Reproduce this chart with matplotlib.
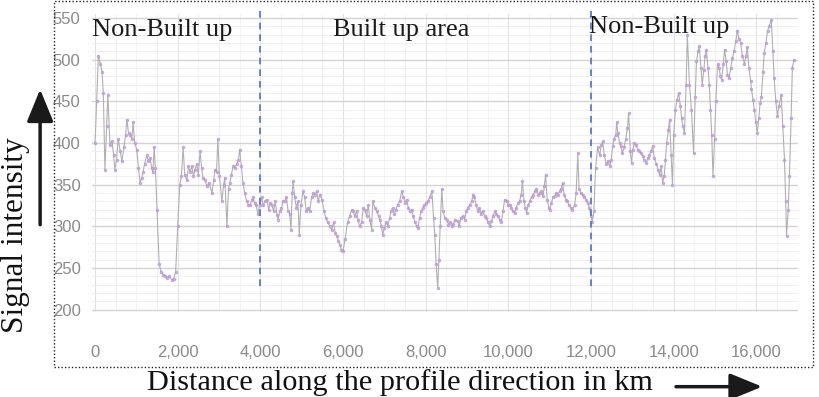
import matplotlib
matplotlib.use("Agg")
import matplotlib.pyplot as plt
from matplotlib.patches import Rectangle
from matplotlib.ticker import MultipleLocator, FuncFormatter

# ---- data ----
distance = [0, 40, 80, 130, 170, 200, 240, 280, 310, 360, 410, 450, 480, 520, 560, 610, 650, 700, 740, 770,
            810, 850, 890, 920, 960, 1010, 1050, 1090, 1130, 1160, 1200, 1250, 1290, 1330, 1370, 1400, 1430, 1460, 1500, 1550,
            1600, 1650, 1700, 1750, 1800, 1850, 1900, 1950, 2000, 2050, 2090, 2130, 2170, 2220, 2260, 2300, 2340, 2380, 2420, 2460,
            2500, 2540, 2580, 2610, 2660, 2710, 2760, 2830, 2870, 2900, 2940, 2970, 3010, 3070, 3110, 3140, 3190, 3230, 3260, 3300,
            3340, 3380, 3430, 3470, 3500, 3540, 3580, 3620, 3670, 3710, 3750, 3790, 3820, 3860, 3900, 3940, 3980, 4030, 4070, 4110,
            4160, 4200, 4240, 4280, 4320, 4360, 4400, 4430, 4470, 4510, 4550, 4590, 4630, 4670, 4710, 4740, 4770, 4790, 4830, 4870,
            4910, 4940, 4980, 5030, 5070, 5110, 5150, 5190, 5240, 5280, 5320, 5360, 5400, 5440, 5490, 5540, 5580, 5630, 5680, 5730,
            5770, 5810, 5850, 5890, 5920, 5960, 6000, 6050, 6110, 6160, 6210, 6250, 6280, 6330, 6360, 6400, 6450, 6490, 6530, 6570,
            6610, 6650, 6690, 6720, 6770, 6820, 6860, 6890, 6930, 6960, 7000, 7040, 7080, 7130, 7160, 7200, 7240, 7280, 7320, 7370,
            7420, 7460, 7500, 7540, 7580, 7620, 7660, 7700, 7740, 7780, 7810, 7850, 7890, 7930, 7970, 8010, 8050, 8100, 8150, 8190,
            8220, 8250, 8290, 8320, 8350, 8390, 8420, 8460, 8510, 8550, 8590, 8630, 8670, 8710, 8770, 8810, 8850, 8900, 8940, 8980,
            9020, 9070, 9110, 9150, 9180, 9220, 9260, 9300, 9340, 9380, 9430, 9470, 9510, 9550, 9590, 9630, 9670, 9710, 9750, 9790,
            9830, 9870, 9910, 9960, 10000, 10030, 10070, 10110, 10150, 10190, 10230, 10270, 10310, 10340, 10380, 10410, 10440, 10480, 10520, 10560,
            10600, 10640, 10680, 10720, 10760, 10800, 10840, 10870, 10900, 10940, 10980, 11000, 11040, 11080, 11120, 11160, 11200, 11240, 11280, 11310,
            11350, 11390, 11430, 11470, 11510, 11550, 11600, 11640, 11680, 11710, 11750, 11800, 11840, 11880, 11920, 11960, 12000, 12030, 12070, 12110,
            12160, 12210, 12250, 12280, 12320, 12370, 12410, 12450, 12490, 12520, 12560, 12600, 12620, 12650, 12690, 12720, 12760, 12800, 12840, 12880,
            12910, 12950, 12980, 13010, 13050, 13090, 13130, 13170, 13210, 13250, 13290, 13340, 13380, 13410, 13450, 13490, 13530, 13580, 13620, 13660,
            13700, 13730, 13770, 13800, 13830, 13870, 13900, 13940, 13970, 14000, 14040, 14080, 14120, 14160, 14190, 14220, 14260, 14300, 14330, 14380,
            14430, 14480, 14520, 14550, 14590, 14620, 14660, 14690, 14730, 14760, 14790, 14830, 14860, 14890, 14920, 14950, 14990, 15020, 15060, 15100,
            15130, 15160, 15200, 15230, 15270, 15300, 15340, 15380, 15420, 15460, 15500, 15540, 15580, 15620, 15660, 15710, 15750, 15780, 15820, 15860,
            15880, 15920, 15950, 15990, 16020, 16060, 16090, 16120, 16160, 16190, 16230, 16270, 16310, 16360, 16400, 16430, 16470, 16510, 16550, 16600,
            16640, 16680, 16710, 16730, 16770, 16800, 16840, 16870, 16910]
signal = [400, 450, 505, 495, 485, 460, 368, 420, 458, 398, 402, 385, 368, 380, 405, 390, 378, 395, 410, 428,
          412, 410, 405, 425, 400, 392, 370, 352, 358, 365, 375, 385, 378, 382, 370, 365, 395, 370, 320, 255,
          245, 242, 240, 238, 240, 236, 237, 245, 300, 350, 360, 395, 362, 355, 372, 365, 372, 360, 368, 375,
          362, 390, 370, 358, 355, 348, 352, 340, 355, 368, 365, 405, 360, 330, 350, 358, 300, 345, 352, 362,
          372, 370, 375, 380, 392, 372, 352, 340, 330, 326, 325, 332, 335, 328, 325, 315, 325, 335, 325, 330,
          332, 320, 328, 325, 318, 330, 314, 308, 318, 322, 330, 330, 335, 318, 315, 296, 340, 354, 335, 322,
          330, 290, 325, 342, 335, 318, 322, 318, 335, 340, 338, 342, 330, 338, 332, 318, 310, 305, 300, 296,
          305, 292, 288, 282, 278, 272, 270, 285, 305, 312, 320, 318, 312, 318, 308, 300, 305, 322, 320, 312,
          325, 308, 296, 330, 322, 318, 312, 308, 300, 290, 298, 305, 300, 310, 318, 322, 315, 320, 326, 330,
          342, 335, 328, 332, 322, 318, 320, 312, 305, 300, 298, 310, 318, 322, 325, 328, 330, 335, 342, 310,
          290, 255, 226, 260, 300, 345, 318, 310, 308, 302, 305, 300, 303, 308, 306, 300, 310, 312, 308, 318,
          322, 326, 330, 338, 335, 325, 318, 322, 315, 318, 312, 310, 305, 300, 306, 312, 318, 315, 312, 308,
          305, 318, 332, 330, 325, 326, 322, 318, 316, 322, 328, 330, 338, 354, 330, 322, 316, 326, 330, 335,
          338, 342, 345, 338, 340, 342, 336, 348, 362, 332, 322, 320, 328, 335, 336, 340, 338, 342, 345, 352,
          338, 332, 330, 325, 322, 320, 325, 340, 388, 345, 340, 338, 335, 332, 328, 322, 312, 305, 318, 370,
          395, 385, 398, 402, 385, 375, 378, 372, 380, 396, 405, 410, 425, 412, 400, 396, 388, 395, 405, 418,
          436, 390, 376, 392, 400, 398, 392, 390, 388, 384, 380, 376, 382, 386, 390, 396, 382, 375, 368, 362,
          372, 352, 360, 380, 400, 415, 428, 385, 350, 410, 440, 452, 460, 445, 430, 420, 412, 470, 530, 470,
          440, 388, 455, 498, 510, 516, 490, 470, 488, 505, 512, 490, 470, 440, 410, 360, 405, 450, 495, 490,
          480, 476, 495, 512, 498, 482, 478, 490, 502, 510, 522, 535, 525, 520, 505, 495, 505, 515, 490, 475,
          465, 452, 440, 425, 412, 430, 448, 455, 485, 508, 520, 535, 540, 548, 510, 478, 450, 432, 445, 458,
          420, 380, 330, 288, 320, 360, 430, 490, 500]
x_ticks = [0, 2000, 4000, 6000, 8000, 10000, 12000, 14000, 16000]
y_ticks = [200, 250, 300, 350, 400, 450, 500, 550]
region_bounds = [4000, 12000]
region_labels = ["Non-Built up", "Built up area", "Non-Built up"]

serif = ["Liberation Serif", "DejaVu Serif"]
narrow = ["Liberation Sans Narrow", "Liberation Sans", "DejaVu Sans"]

fig = plt.figure(figsize=(8.19, 3.97), dpi=100)
ax = fig.add_axes([0.112, 0.214, 0.862, 0.751])

ax.plot(distance, signal, color="#b0b0b0", lw=0.8, zorder=3)
ax.plot(distance, signal, ls="none", marker="o", ms=2.2, mfc="#c4a0dc", mec="#b793d2",
        mew=0.3, alpha=0.85, zorder=4)

ax.set_xlim(-80, 17000)
ax.set_ylim(197, 555)
ax.set_xticks(x_ticks)
ax.set_yticks(y_ticks)
ax.xaxis.set_minor_locator(MultipleLocator(500))
ax.yaxis.set_minor_locator(MultipleLocator(10))
ax.xaxis.set_major_formatter(FuncFormatter(lambda v, p: f"{int(v):,}"))
ax.grid(True, which="major", axis="y", color="#d4d4d4", lw=1.0, zorder=0)
ax.grid(True, which="minor", axis="y", color="#ececec", lw=0.6, zorder=0)
ax.grid(True, which="major", axis="x", color="#e2e2e2", lw=0.8, zorder=0)
ax.grid(True, which="minor", axis="x", color="#f0f0f0", lw=0.6, zorder=0)
ax.set_axisbelow(True)
for s in ax.spines.values():
    s.set_visible(False)
ax.tick_params(which="both", length=0)
ax.tick_params(axis="x", pad=24, labelsize=12, labelcolor="#8a8a8a")
ax.tick_params(axis="y", pad=8, labelsize=12, labelcolor="#8a8a8a")
for lab in ax.get_xticklabels() + ax.get_yticklabels():
    lab.set_family(narrow)

# region boundaries
for b in region_bounds:
    ax.plot([b, b], [228, 560], color="#4a72c8", lw=1.2, ls=(0, (4, 3)), clip_on=False, zorder=5)

ax.text(0.0, 0.925, region_labels[0], transform=ax.transAxes, family=serif, fontsize=19,
        color="#1a1a1a", va="baseline", ha="left")
ax.text(0.439, 0.925, region_labels[1], transform=ax.transAxes, family=serif, fontsize=19,
        color="#1a1a1a", va="baseline", ha="center")
ax.text(0.704, 0.935, region_labels[2], transform=ax.transAxes, family=serif, fontsize=19,
        color="#1a1a1a", va="baseline", ha="left")

# axis titles (in figure coordinates)
fig.text(0.019, 0.408, "Signal intensity", rotation=90, family=serif, fontsize=22.5,
         color="#111111", ha="center", va="center")
fig.text(0.488, 0.036, "Distance along the profile direction in km", family=serif, fontsize=21.8,
         color="#111111", ha="center", va="center")

fig.add_artist(plt.Annotation("", xy=(0.049, 0.782), xytext=(0.049, 0.427),
                              xycoords="figure fraction", textcoords="figure fraction",
                              arrowprops=dict(arrowstyle="-|>,head_width=0.45,head_length=1.1",
                                              color="#1a1a1a", lw=2.5, mutation_scale=18)))
fig.add_artist(plt.Annotation("", xy=(0.934, 0.026), xytext=(0.822, 0.026),
                              xycoords="figure fraction", textcoords="figure fraction",
                              arrowprops=dict(arrowstyle="-|>,head_width=0.45,head_length=1.1",
                                              color="#1a1a1a", lw=2.5, mutation_scale=18)))

# dotted frame
fig.add_artist(Rectangle((0.066, 0.076), 0.927, 0.921, transform=fig.transFigure,
                         fill=False, ls=(0, (1, 1.5)), lw=1.0, color="#222222"))

fig.savefig("out.png", dpi=100)
